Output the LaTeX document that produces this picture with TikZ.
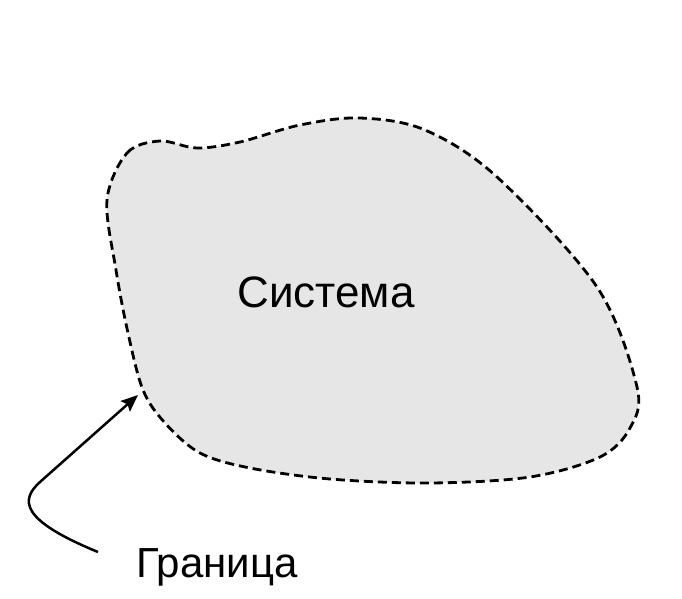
\documentclass[tikz,border=0pt]{standalone}
\usepackage{fontspec}
\setmainfont{Liberation Sans}
\usetikzlibrary{arrows.meta}
\definecolor{blobgray}{RGB}{230,230,230}
\tikzset{
  boundary/.style={draw=black, fill=blobgray, line width=2.8pt, dash pattern=on 9pt off 5pt},
  pointer/.style={draw=black, line width=2.5pt, -{Stealth[length=17pt,width=14pt,inset=3pt]}},
  label/.style={inner sep=0pt, anchor=base}
}
\begin{document}
\begin{tikzpicture}[x=1pt,y=-1pt]
\useasboundingbox (0,0) rectangle (682,599);
\path[boundary] plot[smooth cycle, tension=0.55] coordinates {
 (107,200) (127,153) (160,141) (197,148) (240,142) (300,125) (360,118)
 (425,130) (497,177) (597,287) (637,387) (630,428)
 (600,457) (530,477) (430,483) (330,479) (250,468) (200,453) (165,423)
 (143,390) (128,333) (116,270)};
\node[label, font=\fontsize{44}{48}\selectfont] (sys) at (326,307) {Система};
\node[label, font=\fontsize{42}{46}\selectfont] (gr) at (217,577) {Граница};
\coordinate (tail) at (98,552);
\coordinate (bend) at (40,482);
\coordinate (tip) at (138,395);
\draw[pointer] (tail) .. controls (20,520) and (20,500) .. (bend) -- (tip);
\end{tikzpicture}
\end{document}
